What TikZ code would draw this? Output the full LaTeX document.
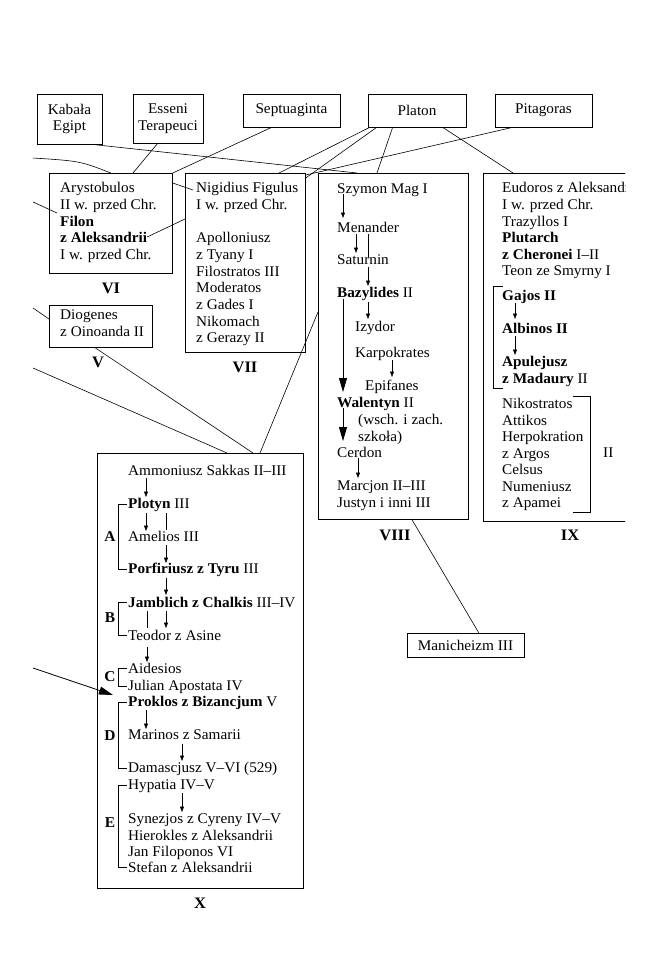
\documentclass[tikz,border=0pt]{standalone}
\usepackage{fontspec}
\setmainfont{Liberation Serif}[FakeStretch=1.03]
\usetikzlibrary{arrows.meta,calc}
\newcommand\txtat[4]{\node[txt] (#1) at (#2,#3) {#4};}
\begin{document}
\begin{tikzpicture}[x=1pt,y=-1pt,
  txt/.style={anchor=base west,inner sep=0pt,font=\fontsize{14.8}{16.7}\selectfont},
  box/.style={draw,line width=0.7pt,inner sep=0pt,anchor=north west},
  tbox/.style={draw,line width=0.7pt,inner sep=0pt,align=center,font=\fontsize{14.8}{16.7}\selectfont},
  lab/.style={inner sep=0pt,font=\fontsize{16}{18}\selectfont\bfseries},
  glab/.style={inner sep=0pt,font=\fontsize{15}{17}\selectfont\bfseries},
  con/.style={line width=0.6pt},
  arr/.style={line width=0.6pt,-{Triangle[length=5.5pt,width=4pt]}},
  bigarr/.style={line width=0.8pt,-{Triangle[length=14pt,width=8pt]}}]
\useasboundingbox (0,0) rectangle (659,978);

% top boxes
\node[tbox,minimum width=65pt,minimum height=50pt] (kab) at (69.5,119) {Kabała\\Egipt};
\node[tbox,minimum width=70pt,minimum height=49pt] (ess) at (168,118.5) {Esseni\\Terapeuci};
\node[tbox,minimum width=97pt,minimum height=33pt] (sep) at (291.5,110.5) {Septuaginta};
\node[tbox,minimum width=98pt,minimum height=33pt] (pla) at (417,110.5) {Platon};
\node[tbox,minimum width=97pt,minimum height=33pt] (pit) at (543.5,110.5) {Pitagoras};
\node[tbox,minimum width=117pt,minimum height=24pt] (man) at (465.5,645) {Manicheizm III};

% group boxes
\node[box,minimum width=123pt,minimum height=100pt] (vi) at (49,173) {};
\node[box,minimum width=120pt,minimum height=179pt] (vii) at (185,173) {};
\node[box,minimum width=103pt,minimum height=42pt] (dio) at (49,305) {};
\node[box,minimum width=150pt,minimum height=346pt] (viii) at (318,173) {};
\node[box,minimum width=206pt,minimum height=435pt] (x) at (97,453) {};
\begin{scope}
\clip (0,0) rectangle (625,978);
\node[box,minimum width=200pt,minimum height=348pt] (ix) at (483,173) {};
\txtat{eud}{502}{192}{Eudoros z Aleksandrii}
\end{scope}

% labels
\node[lab] (lvi) at (111,288) {VI};
\node[lab] (lvii) at (245,367) {VII};
\node[lab] (lv) at (98,362) {V};
\node[lab] (lviii) at (395,535) {VIII};
\node[lab] (lix) at (570,535) {IX};
\node[lab] (lx) at (200,903) {X};

% VI
\txtat{ary}{60}{192}{Arystobulos}
\txtat{aryb}{60}{209}{II w. przed Chr.}
\txtat{fil}{60}{226}{\textbf{Filon}}
\txtat{filb}{60}{242}{\textbf{z Aleksandrii}}
\txtat{filc}{60}{259}{I w. przed Chr.}
% VII
\txtat{nig}{196}{192}{Nigidius Figulus}
\txtat{nigb}{196}{209}{I w. przed Chr.}
\txtat{apo}{196}{242}{Apolloniusz}
\txtat{apob}{196}{259}{z Tyany I}
\txtat{fis}{196}{276}{Filostratos III}
\txtat{mod}{196}{292}{Moderatos}
\txtat{modb}{196}{309}{z Gades I}
\txtat{nik}{196}{326}{Nikomach}
\txtat{nikb}{196}{342}{z Gerazy II}
% Diogenes
\txtat{dgn}{60}{319}{Diogenes}
\txtat{dgnb}{60}{336}{z Oinoanda II}
% VIII
\txtat{szy}{337}{193}{Szymon Mag I}
\txtat{men}{337}{232}{Menander}
\txtat{sat}{337}{264}{Saturnin}
\txtat{baz}{337}{297}{\textbf{Bazylides} II}
\txtat{izy}{355}{331}{Izydor}
\txtat{kar}{355}{357}{Karpokrates}
\txtat{epi}{365}{390}{Epifanes}
\txtat{wal}{337}{407}{\textbf{Walentyn} II}
\txtat{wsc}{358}{424}{(wsch. i zach.}
\txtat{wscb}{358}{441}{szkoła)}
\txtat{cer}{337}{457}{Cerdon}
\txtat{mar}{337}{490}{Marcjon II–III}
\txtat{jus}{337}{507}{Justyn i inni III}
% IX
\txtat{eudb}{502}{209}{I w. przed Chr.}
\txtat{tra}{502}{226}{Trazyllos I}
\txtat{plu}{502}{242}{\textbf{Plutarch}}
\txtat{plub}{502}{259}{\textbf{z Cheronei} I–II}
\txtat{teon}{502}{275}{Teon ze Smyrny I}
\txtat{gaj}{502}{300}{\textbf{Gajos II}}
\txtat{alb}{502}{333}{\textbf{Albinos II}}
\txtat{apu}{502}{366}{\textbf{Apulejusz}}
\txtat{apub}{502}{383}{\textbf{z Madaury} II}
\txtat{nks}{502}{408}{Nikostratos}
\txtat{att}{502}{425}{Attikos}
\txtat{her}{502}{441}{Herpokration}
\txtat{arg}{502}{458}{z Argos}
\txtat{cel}{502}{474}{Celsus}
\txtat{num}{502}{491}{Numeniusz}
\txtat{apa}{502}{507}{z Apamei}
\txtat{iitxt}{603}{457}{II}
% X
\txtat{amm}{128}{475}{Ammoniusz Sakkas II–III}
\txtat{plo}{128}{508}{\textbf{Plotyn} III}
\txtat{ame}{128}{541}{Amelios III}
\txtat{por}{128}{573}{\textbf{Porfiriusz z Tyru} III}
\txtat{jam}{128}{607}{\textbf{Jamblich z Chalkis} III–IV}
\txtat{teo}{128}{640}{Teodor z Asine}
\txtat{aid}{128}{673}{Aidesios}
\txtat{jul}{128}{690}{Julian Apostata IV}
\txtat{pro}{128}{706}{\textbf{Proklos z Bizancjum} V}
\txtat{marin}{128}{739}{Marinos z Samarii}
\txtat{dam}{128}{772}{Damascjusz V–VI (529)}
\txtat{hyp}{128}{789}{Hypatia IV–V}
\txtat{syn}{128}{823}{Synezjos z Cyreny IV–V}
\txtat{hie}{128}{840}{Hierokles z Aleksandrii}
\txtat{jan}{128}{856}{Jan Filoponos VI}
\txtat{ste}{128}{872}{Stefan z Aleksandrii}
\node[glab] (ga) at (110,537) {A};
\node[glab] (gb) at (110,618) {B};
\node[glab] (gc) at (110,677) {C};
\node[glab] (gd) at (110,736) {D};
\node[glab] (ge) at (110,823) {E};

% brackets
\draw[con] ($(plo.west)+(-1,0)$) -- ++(-9,0) |- ($(por.west)+(-1,0)$);
\draw[con] ($(jam.west)+(-1,0)$) -- ++(-9,0) |- ($(teo.west)+(-1,0)$);
\draw[con] ($(aid.west)+(-1,0)$) -- ++(-9,0) |- ($(jul.west)+(-1,0)$);
\draw[con] ($(pro.west)+(-1,0)$) -- ++(-9,0) |- ($(dam.west)+(-1,0)$);
\draw[con] ($(hyp.west)+(-1,0)$) -- ++(-9,0) |- ($(ste.west)+(-1,0)$);
\draw[con] ($(gaj.base west)+(1,-14)$) -- ++(-10,0) |- ($(apub.base west)+(1,5)$);
\draw[con] ($(nks.base west)+(71,-12)$) -- ++(17,0) |- ($(apa.base west)+(71,5)$);

% arrows in X
\draw[arr] ($(amm.base west)+(18,3)$) -- ($(plo.base west)+(18,-11)$);
\draw[arr] ($(plo.base west)+(18,5)$) -- ($(ame.base west)+(18,-10)$);
\draw[con] ($(plo.base west)+(38,5)$) -- ($(ame.base west)+(38,-11)$);
\draw[arr] ($(ame.base west)+(38,4)$) -- ($(por.base west)+(38,-10)$);
\draw[arr] ($(por.base west)+(38,5)$) -- ($(jam.base west)+(38,-12)$);
\draw[con] ($(jam.base west)+(19,4)$) -- ($(teo.base west)+(19,-12)$);
\draw[arr] ($(jam.base west)+(38,4)$) -- ($(teo.base west)+(38,-12)$);
\draw[arr] ($(teo.base west)+(19,7)$) -- ($(aid.base west)+(19,-11)$);
\draw[arr] ($(pro.base west)+(18,4)$) -- ($(marin.base west)+(18,-10)$);
\draw[arr] ($(marin.base west)+(54,5)$) -- ($(dam.base west)+(54,-11)$);
\draw[arr] ($(hyp.base west)+(54,4)$) -- ($(syn.base west)+(54,-11)$);

% arrows in VIII
\draw[arr] ($(szy.base west)+(6,1)$) -- ($(men.base west)+(6,-14)$);
\draw[arr] ($(men.base west)+(19,2)$) -- ($(sat.base west)+(19,-11)$);
\draw[con] ($(men.base west)+(31,2)$) -- ($(sat.base west)+(31,-7)$);
\draw[arr] ($(sat.base west)+(31,3)$) -- ($(baz.base west)+(31,-11)$);
\draw[arr] ($(baz.base west)+(31,5)$) -- ($(izy.base west)+(13,-12)$);
\draw[bigarr] ($(baz.base west)+(6,2)$) -- ($(wal.base west)+(6,-15)$);
\draw[arr] ($(kar.base west)+(37,3)$) -- ($(epi.base west)+(27,-13)$);
\draw[bigarr] ($(wal.base west)+(6,1)$) -- ($(cer.base west)+(6,-16)$);
\draw[arr] ($(cer.base west)+(21,1)$) -- ($(mar.base west)+(21,-12)$);

% arrows in IX
\draw[arr] ($(gaj.base west)+(13,3)$) -- ($(alb.base west)+(13,-14)$);
\draw[arr] ($(alb.base west)+(13,3)$) -- ($(apu.base west)+(13,-11)$);

% free ends on the left margin
\coordinate (l1) at (33,158);
\coordinate (l2) at (33,202);
\coordinate (l3) at (33,308);
\coordinate (l4) at (33,368);
\coordinate (l5) at (33,668);

% connectors
\draw[con] (l1) .. controls (80,161) .. (vi.north);
\draw[con] (l2) -- ($(vi.north west)+(8,40)$);
\draw[con] (l3) -- ($(dio.north west)+(0,14)$);
\draw[con] (l4) -- ($(x.north west)+(130,0)$);
\draw[bigarr] (l5) -- ($(pro.base west)+(-15,-11)$);
\draw[con] ($(kab.south west)+(55,0)$) -- ($(viii.north west)+(39,0)$);
\draw[con] ($(ess.south west)+(25,0)$) -- ($(vi.north west)+(84,0)$);
\draw[con] ($(sep.south west)+(29,0)$) -- (vi.north east);
\draw[con] ($(vi.north east)+(0,10)$) -- ($(nig.base west)+(-3,-2)$);
\draw[con] (filb.east) -- ($(vii.north west)+(0,46)$);
\draw[con] ($(dio.south west)+(46,0)$) -- ($(x.north west)+(156,0)$);
\draw[con] ($(viii.north west)+(0,139)$) -- ($(x.north west)+(163,0)$);
\draw[con] ($(pla.south west)+(2,0)$) -- ($(vii.north west)+(94,0)$);
\draw[con] ($(pla.south west)+(9,0)$) -- ($(vii.north east)+(0,5)$);
\draw[con] ($(pla.south west)+(25,0)$) -- ($(viii.north west)+(59,0)$);
\draw[con] ($(pla.south west)+(75,0)$) -- ($(ix.north west)+(30,0)$);
\draw[con] ($(pit.south west)+(18,0)$) -- ($(vii.north east)+(0,2)$);
\draw[con] ($(viii.south west)+(94,0)$) -- ($(man.north west)+(72,0)$);
\end{tikzpicture}
\end{document}
